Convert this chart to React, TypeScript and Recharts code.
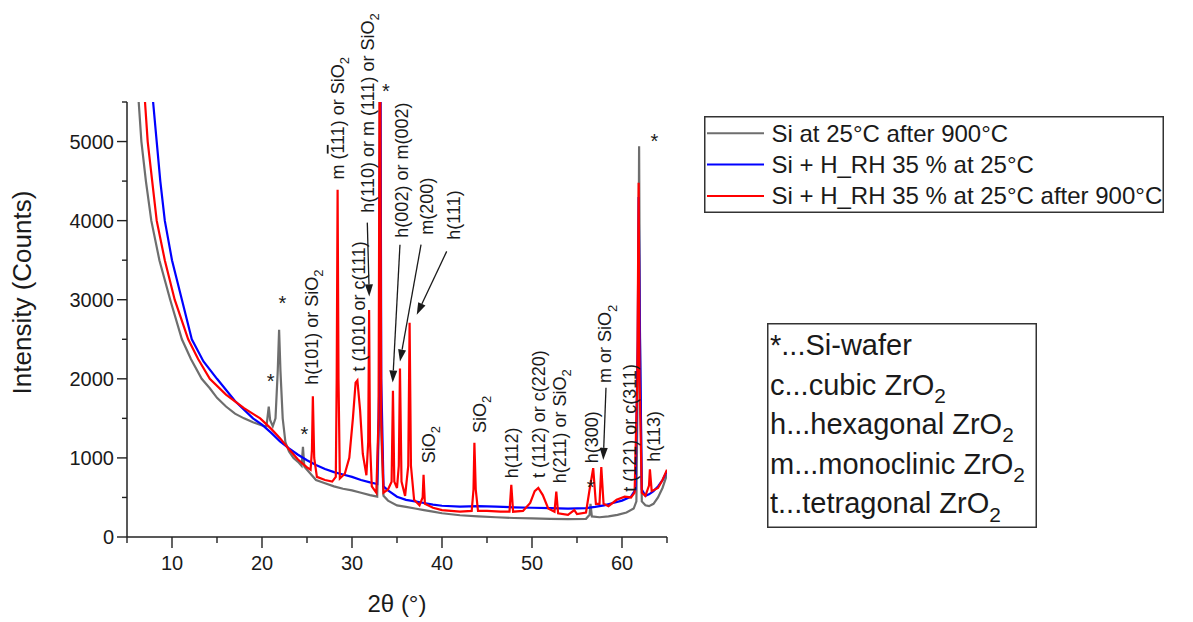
import React from 'react'
import { LineChart, Line, XAxis, YAxis, Legend, ReferenceDot, ReferenceLine } from 'recharts'

const FONT = '"Liberation Sans", Arial, Helvetica, sans-serif'
const INK = '#1a1a1a'

const SERIES_NAMES = ['Si at 25°C after 900°C', 'Si + H_RH 35 % at 25°C', 'Si + H_RH 35 % at 25°C after 900°C']
const SERIES_COLORS = ['#6e6e6e', '#0000ff', '#ff0000']

// [2theta, counts]
const GRAY: [number, number][] = [
  [6.0, 6000], [6.3, 5500], [6.6, 5000], [7.1, 4500], [7.7, 4000], [8.6, 3500], [9.8, 3000],
  [11.1, 2500], [12.1, 2250], [13.3, 2000], [14.2, 1880], [15.0, 1760], [16.0, 1650], [17.0, 1560],
  [18.0, 1500], [19.0, 1450], [20.0, 1410],
  [20.5, 1400], [20.6, 1500], [20.75, 1650], [20.9, 1480], [21.2, 1400], [21.5, 1500], [21.75, 2100],
  [21.9, 2620], [22.05, 2100], [22.3, 1500], [22.6, 1200], [23.0, 1080], [23.5, 1000], [24.0, 950],
  [24.4, 900], [24.55, 1140], [24.7, 890], [25.0, 850], [26.0, 720], [27.0, 680], [28.0, 640],
  [29.0, 610], [30.0, 590], [31.0, 560], [32.0, 530], [32.8, 510], [33.0, 1500], [33.1, 6500],
  [33.2, 1500], [33.5, 520], [34.0, 460], [35.0, 400], [36.0, 380], [37.0, 360], [38.0, 340],
  [39.0, 320], [40.0, 300], [42.0, 275], [44.0, 260], [46.0, 250], [48.0, 240], [50.0, 235],
  [52.0, 230], [54.0, 225], [56.0, 230], [56.4, 280], [56.5, 420], [56.65, 260], [57.5, 250],
  [58.5, 260], [59.5, 280], [60.5, 310], [61.3, 360], [61.6, 450], [61.8, 2500], [61.9, 4940],
  [62.0, 2500], [62.2, 450], [62.6, 400], [63.0, 390], [63.5, 420], [64.0, 500], [64.5, 620], [65.0, 790],
]

const BLUE: [number, number][] = [
  [7.5, 6000], [7.9, 5500], [8.3, 5000], [8.7, 4500], [9.2, 4000], [10.0, 3500], [11.1, 3000],
  [12.2, 2500], [13.5, 2220], [15.0, 2000], [17.0, 1720], [19.0, 1500], [20.0, 1420], [21.0, 1320],
  [22.0, 1210], [23.0, 1120], [24.0, 1040], [25.0, 970], [26.0, 910], [27.0, 860], [28.0, 820],
  [29.0, 790], [30.0, 760], [31.0, 720], [32.0, 690], [32.8, 670], [33.05, 2000], [33.15, 7000],
  [33.25, 2000], [33.5, 640], [34.0, 590], [35.0, 510], [36.0, 470], [37.0, 450], [38.0, 430],
  [39.0, 410], [40.0, 395], [42.0, 385], [44.0, 390], [46.0, 385], [48.0, 375], [50.0, 370],
  [52.0, 365], [54.0, 360], [56.0, 365], [57.0, 380], [58.0, 400], [59.0, 430], [60.0, 460],
  [61.0, 510], [61.5, 600], [61.75, 2500], [61.85, 4300], [62.0, 2500], [62.2, 600], [62.6, 520],
  [63.0, 540], [63.5, 580], [64.0, 640], [64.5, 720], [65.0, 830],
]

const RED: [number, number][] = [
  [6.6, 6000], [7.0, 5500], [7.3, 5000], [7.8, 4500], [8.3, 4000], [9.2, 3500], [10.3, 3000],
  [11.8, 2500], [12.9, 2250], [14.2, 2000], [16.0, 1800], [18.0, 1630], [19.8, 1500], [21.0, 1370],
  [22.0, 1250], [23.0, 1110], [24.0, 980], [25.0, 880], [25.4, 850], [25.55, 1100], [25.65, 1780],
  [25.8, 1000], [26.1, 760], [27.0, 720], [27.8, 700], [28.2, 760], [28.3, 2000], [28.4, 4390],
  [28.5, 2000], [28.65, 740], [29.2, 800], [29.7, 1000], [30.1, 1500], [30.4, 1950], [30.6, 1980],
  [30.9, 1600], [31.2, 1050], [31.6, 780], [31.8, 1200], [31.9, 2870], [32.0, 1200], [32.2, 640],
  [32.7, 560], [32.95, 1500], [33.1, 7000], [33.25, 1500], [33.5, 560], [34.0, 600], [34.4, 700],
  [34.55, 1850], [34.7, 700], [35.0, 620], [35.2, 900], [35.33, 2130], [35.5, 700], [35.9, 520],
  [36.25, 900], [36.4, 2710], [36.55, 900], [36.9, 470], [37.5, 400], [37.85, 500], [37.95, 785],
  [38.1, 420], [39.0, 370], [40.0, 340], [42.0, 320], [43.3, 330], [43.5, 600], [43.6, 1190],
  [43.75, 600], [44.0, 330], [45.0, 330], [46.5, 320], [47.5, 320], [47.7, 660], [47.9, 320],
  [49.0, 330], [49.8, 430], [50.3, 580], [50.7, 620], [51.2, 530], [51.8, 360], [52.5, 320],
  [52.7, 575], [52.9, 300], [54.0, 280], [54.7, 340], [55.0, 290], [56.0, 310], [56.4, 600],
  [56.8, 870], [57.1, 420], [57.5, 420], [57.7, 885], [57.95, 420], [58.5, 390], [59.4, 470],
  [60.3, 510], [61.0, 500], [61.4, 560], [61.7, 2000], [61.85, 4480], [61.95, 2000], [62.2, 560],
  [62.6, 520], [63.0, 650], [63.1, 855], [63.3, 580], [64.0, 620], [64.5, 720], [65.0, 850],
]

const X_TICKS = [5, 10, 15, 20, 25, 30, 35, 40, 45, 50, 55, 60, 65]
const Y_TICKS = [0, 500, 1000, 1500, 2000, 2500, 3000, 3500, 4000, 4500, 5000, 5500]

// peak labels: text, 2theta of the column, counts where the text starts
// "_" = next char subscript, "^" = next char overlined
const PEAK_LABELS: [string, number, number][] = [
  ['h(101) or SiO_2', 25.52, 1924],
  ['t (1010 or c(111)', 30.7, 2092],
  ['m (^111) or SiO_2', 28.37, 4519],
  ['h(110) or m (111) or SiO_2', 31.67, 4101],
  ['h(002) or m(002)', 35.52, 3785],
  ['m(200)', 38.3, 3823],
  ['h(111)', 41.26, 3759],
  ['SiO_2', 38.48, 933],
  ['SiO_2', 44.22, 1316],
  ['h(112)', 47.74, 743],
  ['t (112) or c(220)', 50.7, 747],
  ['h(211) or SiO_2', 53.03, 680],
  ['h(300)', 56.63, 933],
  ['m or SiO_2', 58.11, 1946],
  ['t (121) or c(311)', 60.81, 573],
  ['h(113)', 63.48, 953],
]

// Si-wafer markers
const STARS: [number, number][] = [
  [20.97, 2029], [22.26, 3021], [24.7, 1363], [33.78, 5692], [63.59, 5059], [56.52, 687],
]

// arrows: from [2theta, counts] to [2theta, counts]
const ARROWS: [number, number, number, number][] = [
  [31.7, 3975, 31.92, 3042],
  [35.33, 3696, 34.52, 1953],
  [37.67, 3696, 35.33, 2219],
  [40.52, 3611, 37.19, 2810],
  [58.22, 1886, 57.92, 975],
]

const PHASE_KEY = ['*...Si-wafer', 'c...cubic ZrO_2', 'h...hexagonal ZrO_2', 'm...monoclinic ZrO_2', 't...tetragonal ZrO_2']

const toRows = (s: [number, number][]) => s.map(([x, y]) => ({ x, y }))

function rich(s: string, fs: number) {
  const parts: React.ReactNode[] = []
  let buf = ''
  let lowered = false
  let k = 0
  const flush = () => {
    if (!buf) return
    parts.push(<tspan key={k++} dy={lowered ? -fs * 0.28 : undefined}>{buf}</tspan>)
    lowered = false
    buf = ''
  }
  for (let i = 0; i < s.length; i++) {
    const c = s[i]
    if (c === '_') {
      flush()
      parts.push(<tspan key={k++} dy={fs * 0.28} fontSize={fs * 0.72}>{s[++i]}</tspan>)
      lowered = true
    } else if (c === '^') {
      flush()
      parts.push(<tspan key={k++} style={{ textDecoration: 'overline' }}>{s[++i]}</tspan>)
    } else buf += c
  }
  flush()
  return parts
}

const LABEL_FS = 18

const peakShape = (text: string) => (p: any) => {
  const bx = p.cx + LABEL_FS * 0.36
  const by = p.cy
  return (
    <text x={bx} y={by} transform={`rotate(-90 ${bx} ${by})`} fontSize={LABEL_FS}
      fontFamily={FONT} fill={INK}>{rich(text, LABEL_FS)}</text>
  )
}

const starShape = (p: any) => (
  <text x={p.cx} y={p.cy + 11.5} textAnchor='middle' fontSize={20} fontFamily={FONT} fill={INK}>*</text>
)

const arrowShape = (p: any) => {
  const { x1, y1, x2, y2 } = p
  const dx = x2 - x1, dy = y2 - y1
  const len = Math.hypot(dx, dy) || 1
  const ux = dx / len, uy = dy / len
  const hl = 12, hw = 4
  const bx = x2 - ux * hl, by = y2 - uy * hl
  return (
    <g>
      <line x1={x1} y1={y1} x2={bx} y2={by} stroke={INK} strokeWidth={1.3} />
      <polygon points={`${x2},${y2} ${bx - uy * hw},${by + ux * hw} ${bx + uy * hw},${by - ux * hw}`} fill={INK} />
    </g>
  )
}

const XTick = (p: any) => {
  const v = p.payload.value
  const major = v % 10 === 0
  return (
    <g>
      <line x1={p.x} x2={p.x} y1={p.y} y2={p.y + (major ? 11 : 6)} stroke='#222' strokeWidth={1.4} />
      {major && (
        <text x={p.x} y={p.y + 33} textAnchor='middle' fontSize={20} fontFamily={FONT} fill={INK}>{v}</text>
      )}
    </g>
  )
}

const YTick = (p: any) => {
  const v = p.payload.value
  const major = v % 1000 === 0
  return (
    <g>
      <line x1={p.x - (major ? 10 : 5)} x2={p.x} y1={p.y} y2={p.y} stroke='#222' strokeWidth={1.4} />
      {major && (
        <text x={p.x - 13} y={p.y + 7} textAnchor='end' fontSize={20} fontFamily={FONT} fill={INK}>{v}</text>
      )}
    </g>
  )
}

const xTitle = (p: any) => {
  const vb = p.viewBox || {}
  const cx = (vb.x ?? 127) + (vb.width ?? 540) / 2
  return <text x={cx} y={612} textAnchor='middle' fontSize={24} fontFamily={FONT} fill={INK}>2θ (°)</text>
}

const yTitle = () => (
  <text x={31} y={292.5} transform='rotate(-90 31 292.5)' textAnchor='middle' fontSize={26}
    fontFamily={FONT} fill={INK}>Intensity (Counts)</text>
)

const renderLegend = (props: any) => {
  const items = [...(props.payload || [])].sort(
    (a: any, b: any) => SERIES_NAMES.indexOf(a.value) - SERIES_NAMES.indexOf(b.value))
  return (
    <svg width={460} height={97} style={{ display: 'block' }}>
      <rect x={0.75} y={0.75} width={458.5} height={95.5} fill='white' stroke='#333' strokeWidth={1.5} />
      {items.map((e: any, i: number) => (
        <g key={i}>
          <line x1={3} x2={60} y1={17.3 + i * 31.3} y2={17.3 + i * 31.3} stroke={e.color} strokeWidth={2} />
          <text x={67.5} y={25.7 + i * 31.3} fontSize={24} fontFamily={FONT} fill={INK}>{e.value}</text>
        </g>
      ))}
    </svg>
  )
}

export default function App() {
  const series = [GRAY, BLUE, RED]
  return (
    <div style={{ position: 'absolute', left: 0, top: 0, width: 1193, height: 622, background: '#fff' }}>
      <LineChart width={1193} height={622} margin={{ top: 102, right: 526, bottom: 0, left: 0 }}>
        <XAxis type='number' dataKey='x' domain={[5, 65]} ticks={X_TICKS} interval={0} allowDataOverflow
          height={85} tickSize={0} tickMargin={0} tickLine={false} tick={<XTick />}
          axisLine={{ stroke: '#222', strokeWidth: 1.5 }} label={{ content: xTitle }} />
        <YAxis type='number' dataKey='y' domain={[0, 5500]} ticks={Y_TICKS} interval={0} allowDataOverflow
          width={127} tickSize={0} tickMargin={0} tickLine={false} tick={<YTick />}
          axisLine={{ stroke: '#222', strokeWidth: 1.5 }} label={{ content: yTitle }} />
        {series.map((s, i) => (
          <Line key={i} data={toRows(s)} dataKey='y' name={SERIES_NAMES[i]} type='linear' dot={false}
            activeDot={false} stroke={SERIES_COLORS[i]} strokeWidth={2.2} isAnimationActive={false} />
        ))}
        {ARROWS.map(([xa, ya, xb, yb], i) => (
          <ReferenceLine key={'a' + i} segment={[{ x: xa, y: ya }, { x: xb, y: yb }]} ifOverflow='visible'
            shape={arrowShape} />
        ))}
        {PEAK_LABELS.map(([t, x, y], i) => (
          <ReferenceDot key={'p' + i} x={x} y={y} r={0} ifOverflow='visible' shape={peakShape(t)} />
        ))}
        {STARS.map(([x, y], i) => (
          <ReferenceDot key={'s' + i} x={x} y={y} r={0} ifOverflow='visible' shape={starShape} />
        ))}
        <Legend layout='vertical' align='center' verticalAlign='middle' content={renderLegend}
          wrapperStyle={{ left: 704, top: 116, width: 460, height: 97 }} />
      </LineChart>
      <svg width={270} height={205} style={{ position: 'absolute', left: 767, top: 323 }}>
        <rect x={0.75} y={0.75} width={268.5} height={203.5} fill='white' stroke='#333' strokeWidth={1.5} />
        {PHASE_KEY.map((t, i) => (
          <text key={i} x={3} y={32 + i * 39.6} fontSize={29} fontFamily={FONT} fill={INK}>{rich(t, 29)}</text>
        ))}
      </svg>
    </div>
  )
}
